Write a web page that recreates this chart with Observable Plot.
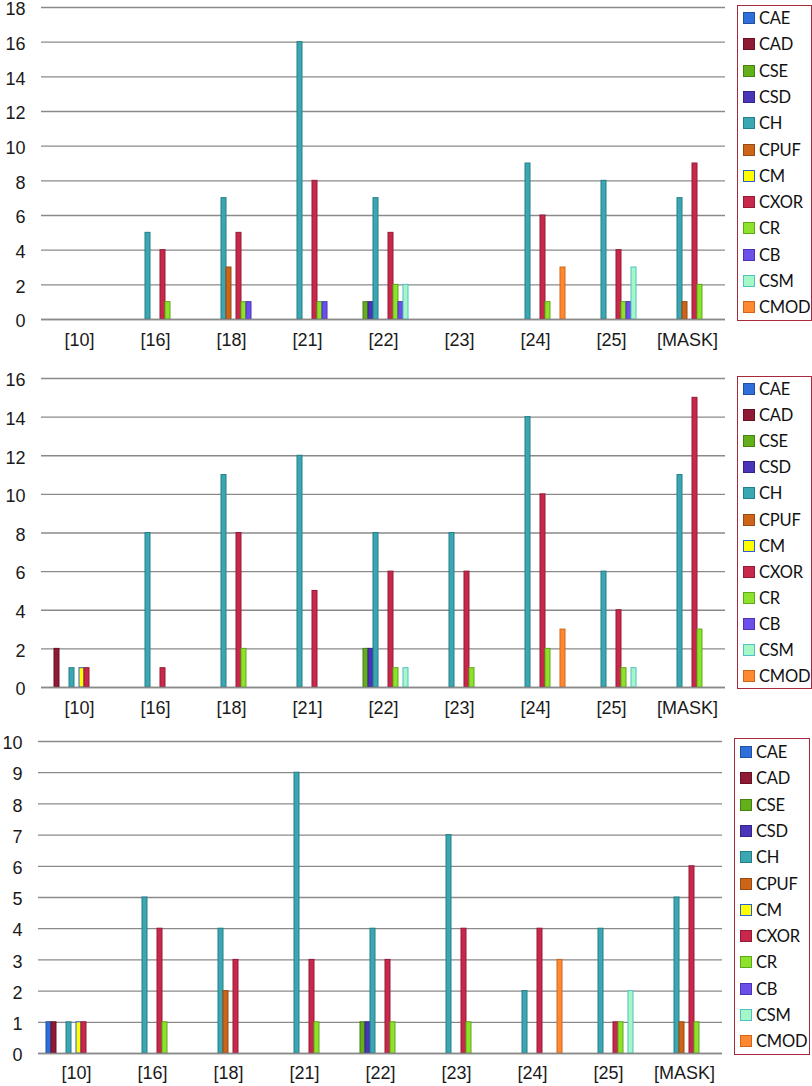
<!DOCTYPE html>
<html>
<head>
<meta charset="utf-8">
<script src="https://cdn.jsdelivr.net/npm/d3@7"></script>
<script src="https://cdn.jsdelivr.net/npm/@observablehq/plot@0.6"></script>
<style>
  html, body { margin: 0; padding: 0; background: #fff; }
  #root { position: relative; width: 812px; height: 1086px; overflow: hidden; }
  .panel { position: absolute; left: 0; }
  .legend { position: absolute; box-sizing: border-box; border: 1.5px solid #a8283e; background: #fff;
            font-family: Lato, "Open Sans", sans-serif; font-size: 16.5px; letter-spacing: -0.2px; color: #111; }
  .legend .item { position: absolute; left: 5px; display: flex; align-items: center; height: 22px; white-space: nowrap; }
  .legend .sw { width: 10px; height: 10px; border: 1px solid; margin-right: 4px; flex: none; }
</style>
</head>
<body>
<div id="root"></div>
<script>
// ---- data ----
const categories = ["[10]", "[16]", "[18]", "[21]", "[22]", "[23]", "[24]", "[25]", "[MASK]"];
const series = ["CAE", "CAD", "CSE", "CSD", "CH", "CPUF", "CM", "CXOR", "CR", "CB", "CSM", "CMOD"];
const fills = ["#2e6fdc", "#8e1b33", "#63b01a", "#4a35b8", "#3aa7b2", "#cd6519", "#ffff00", "#c8284c", "#8ee22c", "#6b4fe8", "#a6f7c6", "#ff8833"];
const strokes = ["#1f4f9f", "#6a1024", "#478012", "#33238a", "#227f88", "#9a4a10", "#2e5fd0", "#961a36", "#5fa81a", "#4a33b8", "#4fc0c8", "#d0651a"];

// rows follow `series`, columns follow `categories`
const panel1Values = [
  [0, 0, 0, 0, 0, 0, 0, 0, 0],   // CAE
  [0, 0, 0, 0, 0, 0, 0, 0, 0],   // CAD
  [0, 0, 0, 0, 1, 0, 0, 0, 0],   // CSE
  [0, 0, 0, 0, 1, 0, 0, 0, 0],   // CSD
  [0, 5, 7, 16, 7, 0, 9, 8, 7],  // CH
  [0, 0, 3, 0, 0, 0, 0, 0, 1],   // CPUF
  [0, 0, 0, 0, 0, 0, 0, 0, 0],   // CM
  [0, 4, 5, 8, 5, 0, 6, 4, 9],   // CXOR
  [0, 1, 1, 1, 2, 0, 1, 1, 2],   // CR
  [0, 0, 1, 1, 1, 0, 0, 1, 0],   // CB
  [0, 0, 0, 0, 2, 0, 0, 3, 0],   // CSM
  [0, 0, 0, 0, 0, 0, 3, 0, 0]    // CMOD
];
const panel2Values = [
  [0, 0, 0, 0, 0, 0, 0, 0, 0],     // CAE
  [2, 0, 0, 0, 0, 0, 0, 0, 0],     // CAD
  [0, 0, 0, 0, 2, 0, 0, 0, 0],     // CSE
  [0, 0, 0, 0, 2, 0, 0, 0, 0],     // CSD
  [1, 8, 11, 12, 8, 8, 14, 6, 11], // CH
  [0, 0, 0, 0, 0, 0, 0, 0, 0],     // CPUF
  [1, 0, 0, 0, 0, 0, 0, 0, 0],     // CM
  [1, 1, 8, 5, 6, 6, 10, 4, 15],   // CXOR
  [0, 0, 2, 0, 1, 1, 2, 1, 3],     // CR
  [0, 0, 0, 0, 0, 0, 0, 0, 0],     // CB
  [0, 0, 0, 0, 1, 0, 0, 1, 0],     // CSM
  [0, 0, 0, 0, 0, 0, 3, 0, 0]      // CMOD
];
const panel3Values = [
  [1, 0, 0, 0, 0, 0, 0, 0, 0],   // CAE
  [1, 0, 0, 0, 0, 0, 0, 0, 0],   // CAD
  [0, 0, 0, 0, 1, 0, 0, 0, 0],   // CSE
  [0, 0, 0, 0, 1, 0, 0, 0, 0],   // CSD
  [1, 5, 4, 9, 4, 7, 2, 4, 5],   // CH
  [0, 0, 2, 0, 0, 0, 0, 0, 1],   // CPUF
  [1, 0, 0, 0, 0, 0, 0, 0, 0],   // CM
  [1, 4, 3, 3, 3, 4, 4, 1, 6],   // CXOR
  [0, 1, 0, 1, 1, 1, 0, 1, 1],   // CR
  [0, 0, 0, 0, 0, 0, 0, 0, 0],   // CB
  [0, 0, 0, 0, 0, 0, 0, 2, 0],   // CSM
  [0, 0, 0, 0, 0, 0, 3, 0, 0]    // CMOD
];
const yTicks1 = [0, 2, 4, 6, 8, 10, 12, 14, 16, 18];
const yTicks2 = [0, 2, 4, 6, 8, 10, 12, 14, 16];
const yTicks3 = [0, 1, 2, 3, 4, 5, 6, 7, 8, 9, 10];

// ---- drawing ----
const root = document.getElementById("root");

function toRows(values) {
  const rows = [];
  series.forEach((s, i) => categories.forEach((c, j) => {
    rows.push({series: s, cat: c, value: values[i][j], idx: i});
  }));
  return rows;
}

function panel(cfg) {
  const rows = toRows(cfg.values);
  const ymax = cfg.ticks[cfg.ticks.length - 1];
  const chart = Plot.plot({
    width: 812,
    height: cfg.height,
    marginLeft: cfg.ml,
    marginRight: cfg.mr,
    marginTop: cfg.mt,
    marginBottom: cfg.mb,
    style: {fontFamily: "'Liberation Sans', Arial, sans-serif", color: "#1a1a1a", background: "transparent", overflow: "visible"},
    fx: {domain: categories, padding: 0, label: null},
    x: {domain: series, paddingInner: 0, paddingOuter: 0.7, axis: null},
    y: {domain: [0, ymax], label: null},
    marks: [
      Plot.gridY(cfg.ticks, {stroke: "#8a8a8a", strokeOpacity: 1, strokeWidth: 1.3}),
      Plot.axisY(cfg.ticks, {tickSize: 0, tickPadding: 16, fontSize: 18, dy: 2, label: null, line: true, stroke: "#8a8a8a", strokeWidth: 1.3}),
      Plot.axisFx({anchor: "bottom", tickSize: 0, tickPadding: cfg.fxPad, fontSize: 18, label: null}),
      Plot.barY(rows, {
        fx: "cat", x: "series", y: "value",
        fill: {value: d => d.value > 0 ? fills[d.idx] : "none", scale: null},
        stroke: {value: d => d.value > 0 ? strokes[d.idx] : "none", scale: null},
        strokeWidth: 1, inset: 0
      }),
      Plot.ruleY([0], {stroke: "#8a8a8a", strokeWidth: 1.3})
    ]
  });
  const wrap = document.createElement("div");
  wrap.className = "panel";
  wrap.style.top = cfg.top + "px";
  wrap.appendChild(chart);
  root.appendChild(wrap);

  const lg = document.createElement("div");
  lg.className = "legend";
  lg.style.left = cfg.lg.x + "px";
  lg.style.top = cfg.lg.y + "px";
  lg.style.width = cfg.lg.w + "px";
  lg.style.height = cfg.lg.h + "px";
  series.forEach((s, i) => {
    const it = document.createElement("div");
    it.className = "item";
    it.style.top = (cfg.lg.first - cfg.lg.y - 12 + i * cfg.lg.step) + "px";
    const sw = document.createElement("span");
    sw.className = "sw";
    sw.style.background = fills[i];
    sw.style.borderColor = strokes[i];
    const tx = document.createElement("span");
    tx.textContent = s;
    it.appendChild(sw);
    it.appendChild(tx);
    lg.appendChild(it);
  });
  root.appendChild(lg);
}

panel({values: panel1Values, ticks: yTicks1, top: 0, height: 360, ml: 37, mr: 84, mt: 7, mb: 41, fxPad: 14,
       lg: {x: 737, y: 5, w: 75, h: 316, first: 18, step: 26.3}});
panel({values: panel2Values, ticks: yTicks2, top: 360, height: 362, ml: 37, mr: 84, mt: 18, mb: 35, fxPad: 14,
       lg: {x: 737, y: 376, w: 75, h: 313, first: 389, step: 26.1}});
panel({values: panel3Values, ticks: yTicks3, top: 722, height: 364, ml: 35, mr: 87, mt: 19, mb: 33, fxPad: 13,
       lg: {x: 734, y: 738, w: 76, h: 317, first: 752, step: 26.3}});
</script>
</body>
</html>
